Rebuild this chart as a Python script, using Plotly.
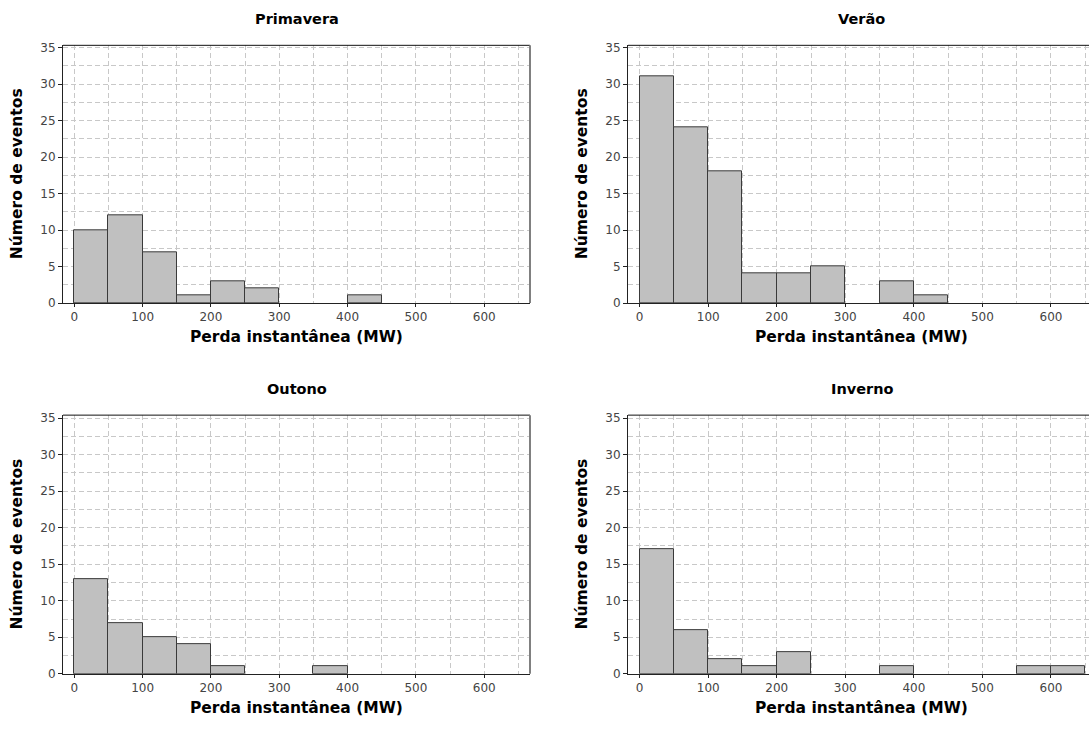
import plotly.graph_objects as go

bin_starts = [0, 50, 100, 150, 200, 250, 300, 350, 400, 450, 500, 550, 600]
bin_width = 50
seasons = ["Primavera", "Verão", "Outono", "Inverno"]
primavera = [10, 12, 7, 1, 3, 2, 0, 0, 1, 0, 0, 0, 0]
verao = [31, 24, 18, 4, 4, 5, 0, 3, 1, 0, 0, 0, 0]
outono = [13, 7, 5, 4, 1, 0, 0, 1, 0, 0, 0, 0, 0]
inverno = [17, 6, 2, 1, 3, 0, 0, 1, 0, 0, 0, 1, 1]
x_ticks = [0, 100, 200, 300, 400, 500, 600]
y_ticks = [0, 5, 10, 15, 20, 25, 30, 35]
x_title = "Perda instantânea (MW)"
y_title = "Número de eventos"

W, H = 1089, 729
FONT = "DejaVu Sans"
GRID = "#c8c8c8"
DASH = "5px,3px"

# pixel boxes (left, right, top, bottom)
boxes = [
    (63, 530, 41, 303),
    (628, 1089, 41, 303),
    (63, 530, 417, 680),
    (628, 1089, 417, 680),
]
xranges = [[-16.5, 667], [-17, 655.5], [-16.5, 667], [-17, 655.5]]
yranges = [[0, 35.3], [0, 35.3], [0, 35.4], [0, 35.4]]
full_right = [530, 1095, 530, 1095]

fig = go.Figure()
annotations = []
shapes = []
series = [primavera, verao, outono, inverno]

for i, (name, vals) in enumerate(zip(seasons, series)):
    n = i + 1
    xa = "x" if n == 1 else f"x{n}"
    ya = "y" if n == 1 else f"y{n}"
    pairs = [(s + bin_width / 2, v) for s, v in zip(bin_starts, vals) if v > 0]
    fig.add_trace(go.Bar(
        x=[p[0] for p in pairs], y=[p[1] for p in pairs], width=[bin_width] * len(pairs),
        marker=dict(color="#c0c0c0", line=dict(color="#3a3a3a", width=1)),
        xaxis=xa, yaxis=ya, showlegend=False, hoverinfo="x+y",
    ))
    l, r, t, b = boxes[i]
    xd = [l / W, min(r / W, 1.0)]
    yd = [1 - b / H, 1 - t / H]
    grid = dict(showgrid=True, gridcolor=GRID, griddash=DASH, gridwidth=1)
    fig.layout[f"xaxis{'' if n == 1 else n}"] = dict(
        domain=xd, range=xranges[i], anchor=ya,
        tickmode="array", tickvals=x_ticks,
        ticks="outside", ticklen=3, tickcolor="#222", tickwidth=1,
        showline=True, linecolor="#222", linewidth=1,
        tickfont=dict(family=FONT, size=12, color="#444"),
        zeroline=False,
        minor=dict(dtick=50, tick0=0, showgrid=True, gridcolor=GRID, griddash=DASH),
        **grid,
    )
    fig.layout[f"yaxis{'' if n == 1 else n}"] = dict(
        domain=yd, range=yranges[i], anchor=xa,
        tickmode="array", tickvals=y_ticks,
        ticks="outside", ticklen=4, tickcolor="#222", tickwidth=1,
        showline=True, linecolor="#222", linewidth=1,
        tickfont=dict(family=FONT, size=12, color="#444"),
        zeroline=False,
        minor=dict(dtick=2.5, tick0=0, showgrid=True, gridcolor=GRID, griddash=DASH),
        **grid,
    )
    cx = (l + full_right[i]) / 2 / W
    # subplot title
    annotations.append(dict(
        text=f"<b>{name}</b>", x=cx, y=1 - (t - 27) / H, xref="paper", yref="paper",
        xanchor="center", yanchor="middle", showarrow=False,
        font=dict(family=FONT, size=14.5, color="#000"),
    ))
    # x title
    annotations.append(dict(
        text=f"<b>{x_title}</b>", x=cx, y=1 - (b + 35) / H, xref="paper", yref="paper",
        xanchor="center", yanchor="middle", showarrow=False,
        font=dict(family=FONT, size=15.5, color="#000"),
    ))
    # y title
    annotations.append(dict(
        text=f"<b>{y_title}</b>", x=(l - 46) / W, y=1 - (t + b) / 2 / H, xref="paper", yref="paper",
        xanchor="center", yanchor="middle", showarrow=False, textangle=-90,
        font=dict(family=FONT, size=15.5, color="#000"),
    ))
    # top border (black)
    shapes.append(dict(type="line", xref=f"{xa} domain", yref=f"{ya} domain",
                       x0=0, x1=1, y0=1, y1=1, line=dict(color="#111", width=1)))
    if i in (0, 2):
        shapes.append(dict(type="line", xref=f"{xa} domain", yref=f"{ya} domain",
                           x0=1, x1=1, y0=0, y1=1, line=dict(color="#808080", width=2)))

fig.update_layout(
    width=W, height=H, margin=dict(l=0, r=0, t=0, b=0),
    paper_bgcolor="white", plot_bgcolor="white",
    annotations=annotations, shapes=shapes, bargap=0,
)
fig.write_html(
    "out.html",
    config={"displayModeBar": False},
    post_script="document.body.style.margin='0px';document.body.style.overflow='hidden';",
)
